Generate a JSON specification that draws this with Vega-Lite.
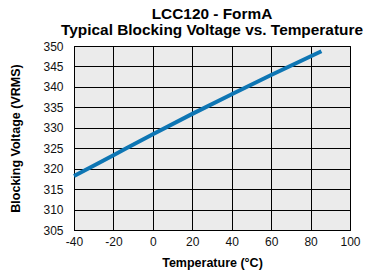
{
  "$schema": "https://vega.github.io/schema/vega-lite/v6.json",
  "width": 276,
  "height": 184,
  "autosize": {"type": "none"},
  "padding": {"left": 74, "top": 46, "right": 21, "bottom": 46},
  "background": "white",
  "title": {
    "text": ["LCC120 - FormA", "Typical Blocking Voltage vs. Temperature"],
    "font": "Liberation Sans",
    "fontSize": 15.4,
    "fontWeight": "bold",
    "color": "black",
    "anchor": "middle",
    "lineHeight": 15.5,
    "offset": 2
  },
  "config": {
    "view": {"fill": "#ebebeb", "stroke": "black", "strokeWidth": 1},
    "axis": {
      "labelFont": "Liberation Sans",
      "labelFontSize": 12,
      "labelColor": "#111",
      "titleFont": "Liberation Sans",
      "titleFontSize": 12.5,
      "titleFontWeight": "bold",
      "titleColor": "black",
      "grid": true,
      "gridColor": "black",
      "gridOpacity": 1,
      "gridWidth": 1,
      "domainColor": "black",
      "ticks": false
    }
  },
  "data": {
    "values": [
      {"t": -40, "v": 318.2},
      {"t": -20, "v": 323.3},
      {"t": 0, "v": 328.4},
      {"t": 20, "v": 333.4},
      {"t": 40, "v": 338.2},
      {"t": 60, "v": 342.9},
      {"t": 85.5, "v": 348.7}
    ]
  },
  "mark": {"type": "line", "color": "#0e76b4", "strokeWidth": 4, "interpolate": "monotone"},
  "encoding": {
    "x": {
      "field": "t",
      "type": "quantitative",
      "scale": {"domain": [-40, 100], "nice": false},
      "axis": {"values": [-40, -20, 0, 20, 40, 60, 80, 100], "labelExpr": "toString(datum.value)", "title": "Temperature (°C)", "labelPadding": 6, "titlePadding": 9, "labelFlush": false}
    },
    "y": {
      "field": "v",
      "type": "quantitative",
      "scale": {"domain": [305, 350], "nice": false, "zero": false},
      "axis": {"values": [305, 310, 315, 320, 325, 330, 335, 340, 345, 350], "title": "Blocking Voltage (VRMS)", "labelPadding": 11, "titlePadding": 20, "labelFlush": false}
    }
  }
}
